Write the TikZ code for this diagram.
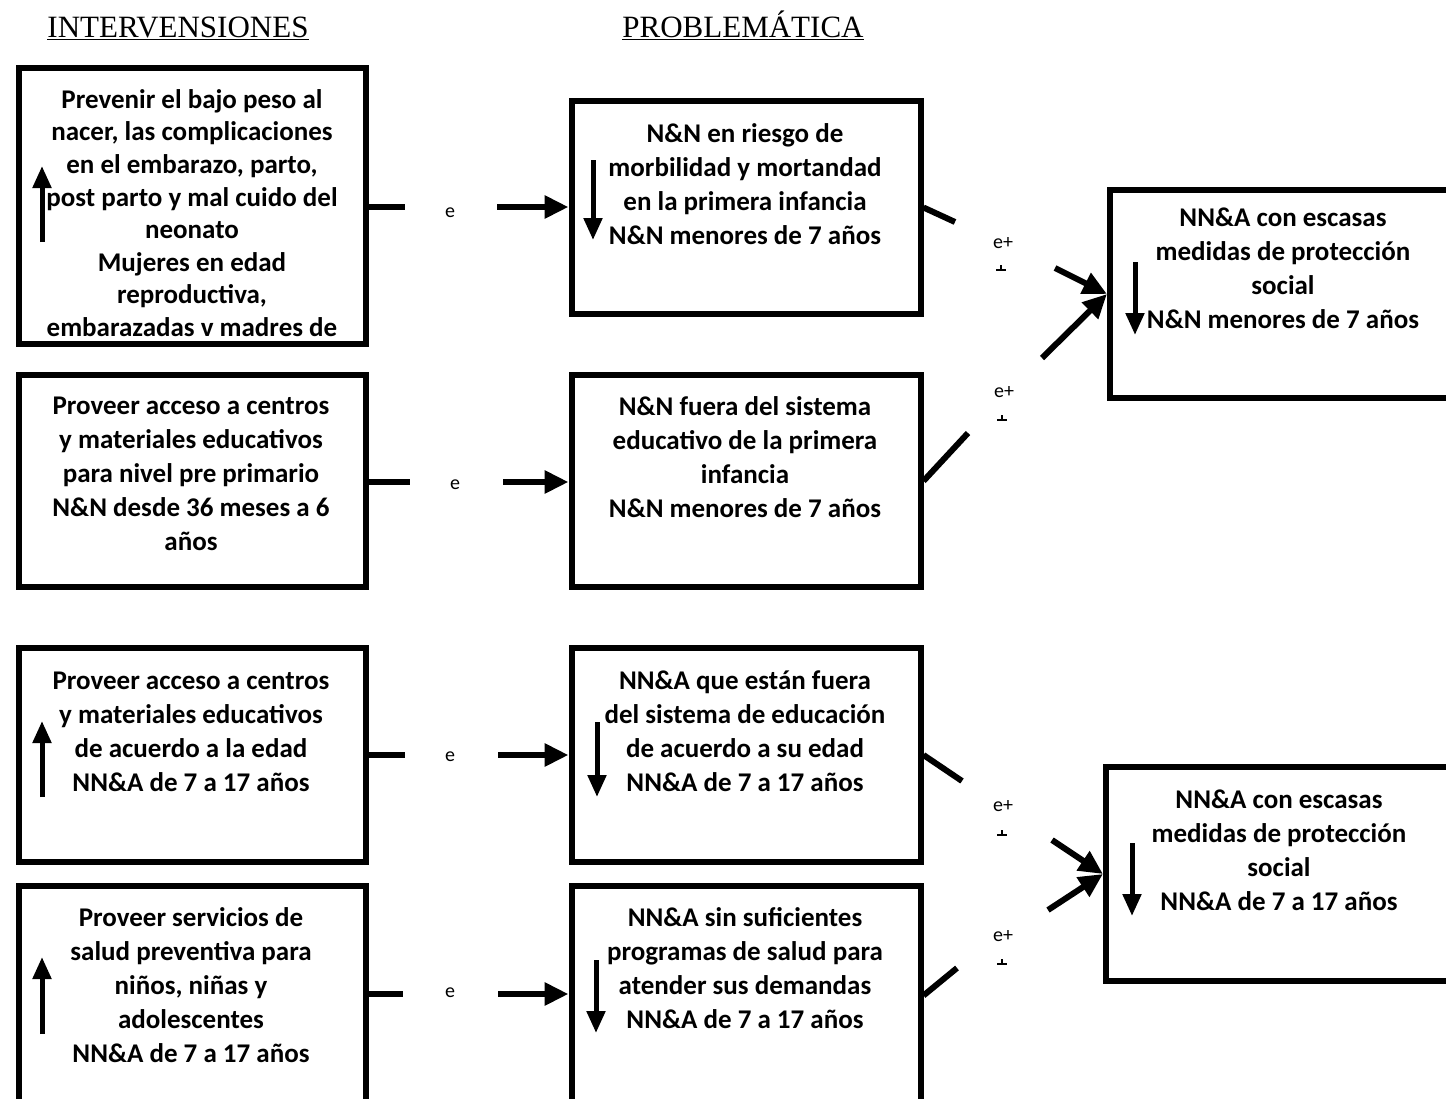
\documentclass[tikz,border=0pt]{standalone}
\usepackage{fontspec}
\setmainfont{Carlito}
\newfontfamily\headfont{Liberation Serif}
\usetikzlibrary{arrows.meta}
\begin{document}
\begin{tikzpicture}[x=1pt,y=-1pt,
  box/.style={draw,line width=6pt,rectangle,inner sep=0pt},
  txt/.style={font=\fontsize{27}{34}\selectfont\bfseries,align=center,inner sep=0pt},
  head/.style={font=\headfont\fontsize{31}{34}\selectfont,inner sep=0pt,anchor=base},
  conn/.style={line width=6pt},
  carrow/.style={line width=6pt,-{Triangle[length=24pt,width=22pt]}},
  vertarrow/.style={line width=5pt,-{Triangle[length=22pt,width=18pt]}},
  lbl/.style={font=\fontsize{20}{22}\selectfont,inner sep=0pt},
  tick/.style={line width=1.4pt}]
\useasboundingbox (0,0) rectangle (1446,1098);
\fill[white] (0,0) rectangle (1446,1098);

% headings
\node[head] (h1) at (178,37) {\underline{INTERVENSIONES}};
\node[head] (h2) at (743,37) {\underline{PROBLEMÁTICA}};

% boxes (left column)
\node[box,minimum width=347pt,minimum height=276pt] (a1) at (192.5,206) {};
\node[box,minimum width=347pt,minimum height=212pt] (a2) at (192.5,481) {};
\node[box,minimum width=347pt,minimum height=214pt] (a3) at (192.5,755) {};
\node[box,minimum width=347pt,minimum height=219pt] (a4) at (192.5,995.5) {};
% middle column
\node[box,minimum width=349pt,minimum height=213pt] (b1) at (746,207.5) {};
\node[box,minimum width=349pt,minimum height=212pt] (b2) at (746,481) {};
\node[box,minimum width=349pt,minimum height=214pt] (b3) at (746,755) {};
\node[box,minimum width=349pt,minimum height=219pt] (b4) at (746,995.5) {};
% right column
\node[box,minimum width=350pt,minimum height=208pt] (c1) at (1285,294) {};
\node[box,minimum width=354pt,minimum height=214pt] (c2) at (1283,874) {};

% texts
\begin{scope}
\clip (22,72) rectangle (363,340);
\node[txt,font=\fontsize{27}{32.6}\selectfont\bfseries] (ta1) at (192,213) {Prevenir el bajo peso al\\nacer, las complicaciones\\en el embarazo, parto,\\post parto y mal cuido del\\neonato\\Mujeres en edad\\reproductiva,\\embarazadas v madres de};
\end{scope}
\node[txt] (ta2) at (191,473.5) {Proveer acceso a centros\\y materiales educativos\\para nivel pre primario\\N\&N desde 36 meses a 6\\años};
\node[txt] (ta3) at (191,731.5) {Proveer acceso a centros\\y materiales educativos\\de acuerdo a la edad\\NN\&A de 7 a 17 años};
\node[txt] (ta4) at (191,985.5) {Proveer servicios de\\salud preventiva para\\niños, niñas y\\adolescentes\\NN\&A de 7 a 17 años};

\node[txt] (tb1) at (745,184) {N\&N en riesgo de\\morbilidad y mortandad\\en la primera infancia\\N\&N menores de 7 años};
\node[txt] (tb2) at (745,457) {N\&N fuera del sistema\\educativo de la primera\\infancia\\N\&N menores de 7 años};
\node[txt] (tb3) at (745,731.5) {NN\&A que están fuera\\del sistema de educación\\de acuerdo a su edad\\NN\&A de 7 a 17 años};
\node[txt] (tb4) at (745,968.5) {NN\&A sin suficientes\\programas de salud para\\atender sus demandas\\NN\&A de 7 a 17 años};

\node[txt] (tc1) at (1283,268.5) {NN\&A con escasas\\medidas de protección\\social\\N\&N menores de 7 años};
\node[txt] (tc2) at (1279,850.5) {NN\&A con escasas\\medidas de protección\\social\\NN\&A de 7 a 17 años};

% up/down arrows inside boxes
\draw[vertarrow] (42,242) -- (42,166);
\draw[vertarrow] (593,160) -- (593,240);
\draw[vertarrow] (1135,262) -- (1135,335);
\draw[vertarrow] (42,797) -- (42,721);
\draw[vertarrow] (597,722) -- (597,797);
\draw[vertarrow] (1132,843) -- (1132,916);
\draw[vertarrow] (42,1034) -- (42,957);
\draw[vertarrow] (596,960) -- (596,1033);

% left connectors
\coordinate (s1) at (405,207); \coordinate (t1) at (497,207);
\coordinate (s2) at (410,482); \coordinate (t2) at (503,482);
\coordinate (s3) at (405,755); \coordinate (t3) at (498,755);
\coordinate (s4) at (403,994); \coordinate (t4) at (498,994);
\draw[conn] (a1.east |- s1) -- (s1);
\draw[conn] (a2.east |- s2) -- (s2);
\draw[conn] (a3.east |- s3) -- (s3);
\draw[conn] (a4.east |- s4) -- (s4);
\draw[carrow] (t1) -- (b1.west |- t1);
\draw[carrow] (t2) -- (b2.west |- t2);
\draw[carrow] (t3) -- (b3.west |- t3);
\draw[carrow] (t4) -- (b4.west |- t4);
\node[lbl] (e1) at (450,213) {e};
\node[lbl] (e2) at (455,485) {e};
\node[lbl] (e3) at (450,757) {e};
\node[lbl] (e4) at (450,993) {e};

% right connectors
\coordinate (u1) at (955,222); \coordinate (v1) at (1055,268);
\coordinate (u2) at (968,433); \coordinate (v2) at (1042,358);
\coordinate (u3) at (962,781); \coordinate (v3) at (1052,840);
\coordinate (u4) at (957,968); \coordinate (v4) at (1048,910);
\draw[conn] (b1.east) -- (u1);
\draw[conn] (b2.east) -- (u2);
\draw[conn] (b3.east) -- (u3);
\draw[conn] (b4.east) -- (u4);
\draw[carrow] (v1) -- (c1.west);
\draw[carrow] (v2) -- (c1.west);
\draw[carrow] (v3) -- (c2.west);
\draw[carrow] (v4) -- (c2.west);
\node[lbl] (p1) at (1003,243) {e+};
\node[lbl] (p2) at (1004,392) {e+};
\node[lbl] (p3) at (1003,806) {e+};
\node[lbl] (p4) at (1003,936) {e+};
\draw[tick] (996,270) -- (1006,270) (1001,270) -- (1001,265);
\draw[tick] (997,420) -- (1007,420) (1002,420) -- (1002,415);
\draw[tick] (997,835) -- (1007,835) (1002,835) -- (1002,830);
\draw[tick] (997,964) -- (1007,964) (1002,964) -- (1002,959);
\end{tikzpicture}
\end{document}
